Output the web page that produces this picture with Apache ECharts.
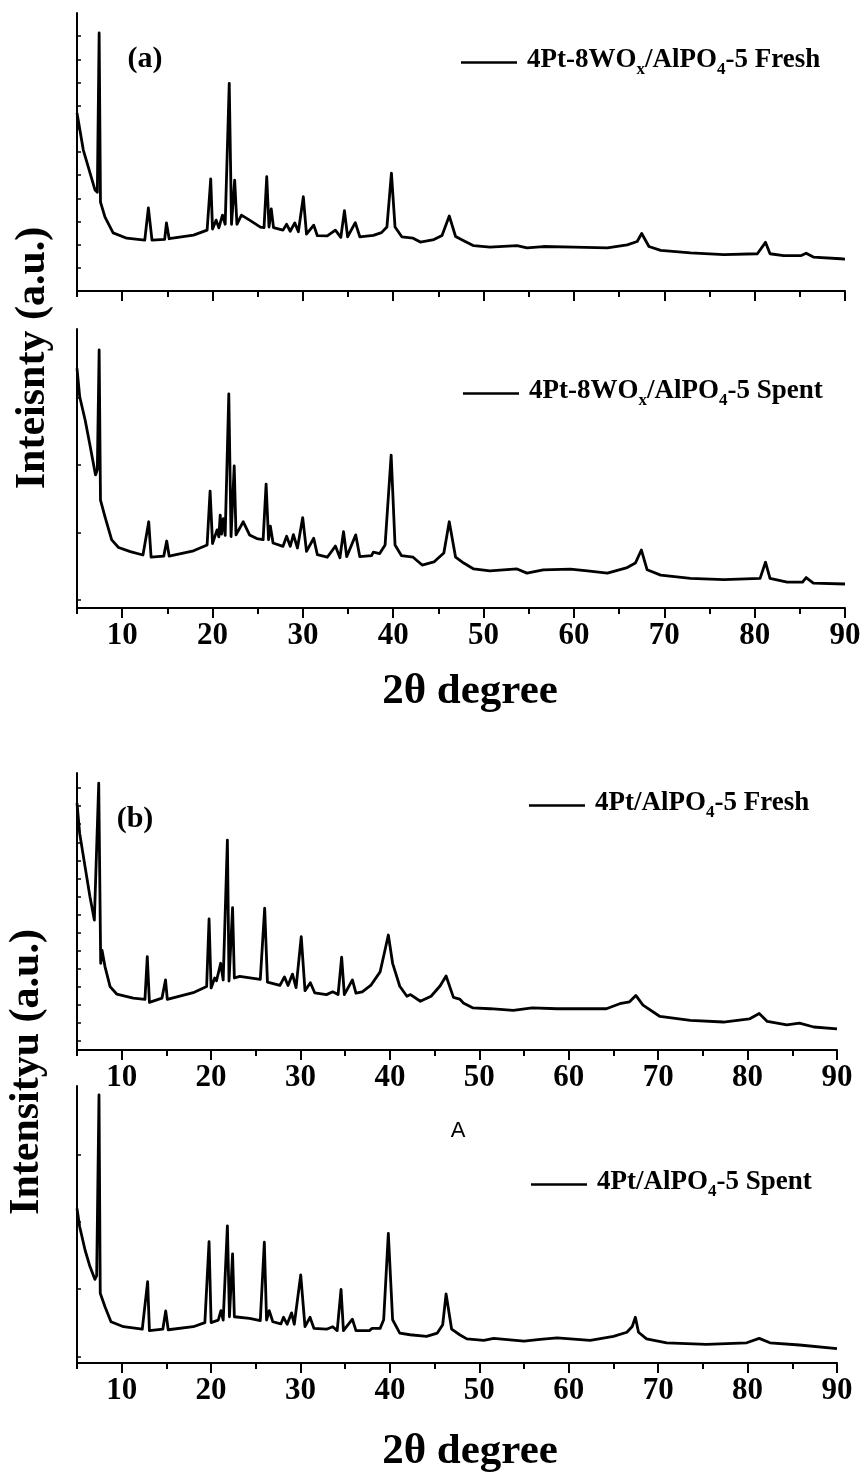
<!DOCTYPE html>
<html>
<head>
<meta charset="utf-8">
<script src="https://cdn.jsdelivr.net/npm/echarts@6/dist/echarts.min.js"></script>
<style>
html,body{margin:0;padding:0;background:#fff;}
#chart{width:865px;height:1473px;}
</style>
</head>
<body>
<div id="chart"></div>
<script>
// ---------- DATA ----------
const seriesNames = [
  '4Pt-8WOx/AlPO4-5 Fresh',
  '4Pt-8WOx/AlPO4-5 Spent',
  '4Pt/AlPO4-5 Fresh',
  '4Pt/AlPO4-5 Spent'
];

const aFreshX = [5.0,5.7,7.0,7.25,7.45,7.6,8.1,9.0,10.5,12.5,12.9,13.3,14.7,14.9,15.2,17.9,19.4,19.8,20.0,20.4,20.7,21.1,21.4,21.85,22.1,22.45,22.7,23.2,24.1,25.3,25.7,26.0,26.25,26.5,26.75,27.8,28.2,28.6,29.1,29.5,30.05,30.4,31.2,31.6,32.7,33.6,34.2,34.6,34.95,35.8,36.3,37.8,38.7,39.3,39.8,40.2,40.95,42.2,43.0,44.5,45.4,46.2,46.9,47.8,48.9,50.7,53.7,54.8,56.6,60.0,63.7,65.9,67.0,67.5,68.3,69.6,72.9,76.6,80.3,81.2,81.7,83.2,85.1,85.7,86.5,89.5,90];
const aFreshY = [64,50.7,36.3,35.5,92.8,32,26.6,20.9,19,18.3,29.9,18.3,18.6,24.5,18.8,20.1,21.9,40.3,22.3,25.5,22.7,27.3,24,74.7,24,39.9,24,27.3,25.5,23,22.8,41.1,23,29.5,22.8,21.9,24,21.5,24.5,21.3,33.9,20.5,23.7,19.9,19.8,21.9,19.3,28.9,19.5,24.6,19.5,20,21,23,42.4,23,19.5,19,17.6,18.5,20,27,19.6,18.1,16.3,15.8,16.3,15.5,16,15.8,15.5,16.6,17.8,20.7,16,14.6,13.7,13.1,13.4,17.5,13.4,12.7,12.7,13.6,12.2,11.6,11.5];

const aSpentX = [5.0,5.3,5.9,6.4,7.05,7.25,7.45,7.6,8.1,8.84,9.6,10.9,12.3,12.94,13.2,14.6,14.93,15.2,17.9,19.4,19.73,20.0,20.5,20.7,20.85,21.0,21.2,21.4,21.8,22.05,22.4,22.6,23.4,24.1,24.9,25.6,25.93,26.2,26.4,26.7,27.8,28.2,28.6,28.95,29.4,29.98,30.4,31.2,31.6,32.7,33.6,34.1,34.5,34.85,35.85,36.3,37.6,37.8,38.5,39.1,39.77,40.2,40.9,42.2,43.2,44.5,45.6,46.2,46.9,47.8,48.9,50.7,53.7,54.8,56.6,59.6,61.5,63.7,65.9,66.8,67.46,68.1,69.6,72.9,76.6,80.6,81.2,81.7,83.6,85.3,85.7,86.5,90];
const aSpentY = [85.9,75.7,67.4,59,47.7,49.5,92.5,38.7,32.7,24.4,21.7,20.2,19,30.9,18.2,18.6,24,18.6,20.5,22.6,41.9,23.1,28,25.5,33.3,26.5,32,26,76.7,25.6,50.9,26.2,30.9,26.2,24.9,24.5,44.4,24.5,29.3,23.3,22.1,25.7,22.1,26.3,21.5,32.4,20.3,25,19.1,18.2,22.2,18,27.4,18.4,26.2,18.4,18.8,20,19.5,22.6,54.8,22.6,18.8,18.2,15.4,16.5,19.7,30.9,18.2,16.1,14,13.3,14,12.5,13.7,13.9,13.3,12.5,14.5,16.1,20.8,13.7,11.8,10.6,10.2,10.6,16.4,10.6,9.3,9.3,10.9,8.9,8.6];

const bFreshX = [5.0,5.3,5.9,6.45,6.94,7.15,7.43,7.65,7.8,8.13,8.7,9.44,11.3,12.6,12.86,13.1,14.5,14.9,15.1,18.0,19.5,19.77,20.0,20.4,20.6,21.07,21.35,21.82,22.0,22.4,22.6,23.2,25.5,25.99,26.3,27.7,28.2,28.6,29.1,29.5,30.08,30.5,31.1,31.6,32.9,33.6,34.2,34.6,34.9,35.8,36.2,36.9,37.85,38.9,39.4,39.82,40.3,41.1,41.9,42.3,43.4,44.6,45.6,46.28,47.1,47.8,48.2,49.3,51.2,53.8,55.9,58.7,64.2,65.7,66.8,67.5,68.3,70.2,73.6,77.3,80.2,81.3,82.2,84.4,85.8,87.4,90];
const bFreshY = [89.1,78.2,66.2,55.3,46.9,47.5,96.3,31.3,36,30.1,22.9,20.2,18.7,18.3,33.7,17.2,18.7,25.3,18.3,20.7,22.9,47.3,22.4,26,25,31.3,25.3,75.8,24.9,51.4,26,26.6,25.5,51.2,24.5,23.3,26.4,23.3,27.4,22.5,40.9,21.4,24.3,20.6,20,21,20,33.5,20,25.3,20.5,21,23.3,28.2,35.4,41.5,31.3,23,19.4,20,17.6,19.4,23.1,26.7,19,18.4,17,15.2,14.9,14.3,15.2,14.9,14.9,16.7,17.4,19.7,16.2,12.1,10.7,10.1,11.2,13.2,10.3,9.1,9.7,8.3,7.6];

const bSpentX = [5.0,5.3,5.9,6.45,7.0,7.2,7.46,7.6,8.13,8.8,10.2,12.3,12.9,13.1,14.6,14.92,15.2,18.0,19.3,19.77,20.0,20.8,21.1,21.35,21.82,22.05,22.4,22.6,24.3,25.5,25.95,26.2,26.5,26.9,27.8,28.1,28.5,29.0,29.3,30.02,30.5,31.06,31.5,32.9,33.6,34.1,34.53,34.8,35.8,36.2,37.7,38.0,38.9,39.3,39.82,40.3,41.1,42.25,44.1,45.3,45.9,46.28,46.9,47.8,48.6,50.5,51.6,55.0,56.8,58.7,62.4,65.0,66.5,67.1,67.45,67.8,68.7,70.95,75.4,79.9,81.3,82.5,85.8,90];
const bSpentY = [55.8,49.2,40.8,34.8,30.2,31.5,96.8,25.2,20.3,14.9,13.1,12.2,29.4,11.7,12.2,18.8,12,13.1,14.6,43.8,14.6,15.5,18.9,15.5,49.5,16.7,39.4,16.7,16.1,15.3,43.6,15.5,18.9,14.9,14.1,16.5,14,18.1,14,31.8,13.1,16.5,12.5,12.2,13.1,11.7,26.6,11.7,15.8,11.7,11.7,12.5,12.5,15.6,46.8,15.6,10.8,10.2,9.6,10.8,13.8,24.9,12.2,10.2,8.7,8.2,8.9,7.9,8.5,9.1,8.2,9.6,11.1,13.2,16.5,11.1,8.7,7.3,6.7,7.3,8.9,7.3,6.5,5.2];

// tick values
const xTickLabels = [10,20,30,40,50,60,70,80,90];
const xMinorTicks = [5,15,25,35,45,55,65,75,85];
const yTicksAFresh = [8.3,16.7,25,33.3,41.7,50,58.3,66.7,75,83.3,91.7];
const yTicksASpent = [2.9,27.1,51.3,75.5];
const yTicksBFresh = [3.3,9.8,16.3,22.8,29.3,35.9,42.4,48.9,55.4,61.9,68.5,75.0,81.5,88.0,94.5];
const yTicksBSpent = [2.2,26.7,50.9,75.1];

// ---------- CHART ----------
const SERIF = '"Liberation Serif","Times New Roman",serif';
const chart = echarts.init(document.getElementById('chart'), null, {renderer: 'canvas'});

const grids = [
  {left: 77, top: 13, width: 768, height: 278},
  {left: 77, top: 329, width: 768, height: 279},
  {left: 77, top: 773, width: 760, height: 277},
  {left: 77, top: 1086, width: 760, height: 277}
];
const showLabels = [false, true, true, true];
const yTickSets = [yTicksAFresh, yTicksASpent, yTicksBFresh, yTicksBSpent];
const dataX = [aFreshX, aSpentX, bFreshX, bSpentX];
const dataY = [aFreshY, aSpentY, bFreshY, bSpentY];

const xAxes = [], yAxes = [], series = [], legends = [];
grids.forEach((g, i) => {
  xAxes.push({
    type: 'value', gridIndex: i, min: 5, max: 90, position: 'bottom',
    axisLine: {show: true, lineStyle: {color: '#000', width: 2}},
    axisTick: {show: true, inside: false, length: 10, lineStyle: {color: '#000', width: 2}, customValues: xTickLabels},
    axisLabel: {show: showLabels[i], customValues: xTickLabels, margin: 12, color: '#000',
      fontFamily: SERIF, fontWeight: 'bold', fontSize: 31},
    splitLine: {show: false}
  });
  xAxes.push({
    type: 'value', gridIndex: i, min: 5, max: 90, position: 'bottom',
    axisLine: {show: false},
    axisTick: {show: true, inside: false, length: 6, lineStyle: {color: '#000', width: 2}, customValues: xMinorTicks},
    axisLabel: {show: false},
    splitLine: {show: false}
  });
  yAxes.push({
    type: 'value', gridIndex: i, min: 0, max: 100,
    axisLine: {show: true, lineStyle: {color: '#000', width: 2}},
    axisTick: {show: true, inside: true, length: 4, lineStyle: {color: '#000', width: 1.5}, customValues: yTickSets[i]},
    axisLabel: {show: false},
    splitLine: {show: false}
  });
  series.push({
    name: seriesNames[i], type: 'line', xAxisIndex: 2 * i, yAxisIndex: i,
    data: dataX[i].map((x, k) => [x, dataY[i][k]]),
    showSymbol: false, symbol: 'none', smooth: false,
    lineStyle: {color: '#000', width: 2.8, join: 'round'}, itemStyle: {color: '#000'},
    silent: true
  });
});

const rich = {
  m: {fontFamily: SERIF, fontWeight: 'bold', fontSize: 27, color: '#000', verticalAlign: 'top', padding: [0, 0, 0, 0]},
  p: {fontFamily: SERIF, fontWeight: 'bold', fontSize: 27, color: '#000', verticalAlign: 'top', padding: [0, 0, 0, 5]},
  s: {fontFamily: SERIF, fontWeight: 'bold', fontSize: 17, color: '#000', verticalAlign: 'top', padding: [14, 0, 0, 0]}
};
const legendText = {
  '4Pt-8WOx/AlPO4-5 Fresh': '{p|4Pt-8WO}{s|x}{m|/AlPO}{s|4}{m|-5 Fresh}',
  '4Pt-8WOx/AlPO4-5 Spent': '{p|4Pt-8WO}{s|x}{m|/AlPO}{s|4}{m|-5 Spent}',
  '4Pt/AlPO4-5 Fresh': '{p|4Pt/AlPO}{s|4}{m|-5 Fresh}',
  '4Pt/AlPO4-5 Spent': '{p|4Pt/AlPO}{s|4}{m|-5 Spent}'
};
const legendPos = [
  {left: 461, top: 47},
  {left: 463, top: 378},
  {left: 529, top: 790},
  {left: 531, top: 1169}
];
legendPos.forEach((p, i) => {
  legends.push({
    left: p.left, top: p.top, orient: 'horizontal', padding: 0,
    icon: 'rect', itemWidth: 56, itemHeight: 2.5, selectedMode: false,
    data: [seriesNames[i]],
    formatter: (name) => legendText[name],
    textStyle: {rich: rich}
  });
});

const graphic = [
  {type: 'text', x: 33, y: 358, rotation: Math.PI / 2,
    style: {text: 'Inteisnty (a.u.)', font: 'bold 42px ' + SERIF, fill: '#000', align: 'center', verticalAlign: 'middle'}},
  {type: 'text', x: 27, y: 1072, rotation: Math.PI / 2,
    style: {text: 'Intensityu (a.u.)', font: 'bold 42px ' + SERIF, fill: '#000', align: 'center', verticalAlign: 'middle'}},
  {type: 'text', x: 470, y: 692,
    style: {text: '2θ degree', font: 'bold 43px ' + SERIF, fill: '#000', align: 'center', verticalAlign: 'middle'}},
  {type: 'text', x: 470, y: 1452,
    style: {text: '2θ degree', font: 'bold 43px ' + SERIF, fill: '#000', align: 'center', verticalAlign: 'middle'}},
  {type: 'text', x: 145, y: 59,
    style: {text: '(a)', font: 'bold 30px ' + SERIF, fill: '#000', align: 'center', verticalAlign: 'middle'}},
  {type: 'text', x: 135, y: 819,
    style: {text: '(b)', font: 'bold 30px ' + SERIF, fill: '#000', align: 'center', verticalAlign: 'middle'}},
  {type: 'text', x: 458, y: 1131,
    style: {text: 'A', font: '22px "Liberation Sans",Arial,sans-serif', fill: '#000', align: 'center', verticalAlign: 'middle'}}
];

chart.setOption({
  animation: false,
  backgroundColor: '#fff',
  grid: grids,
  xAxis: xAxes,
  yAxis: yAxes,
  legend: legends,
  series: series,
  graphic: graphic
});
</script>
</body>
</html>
